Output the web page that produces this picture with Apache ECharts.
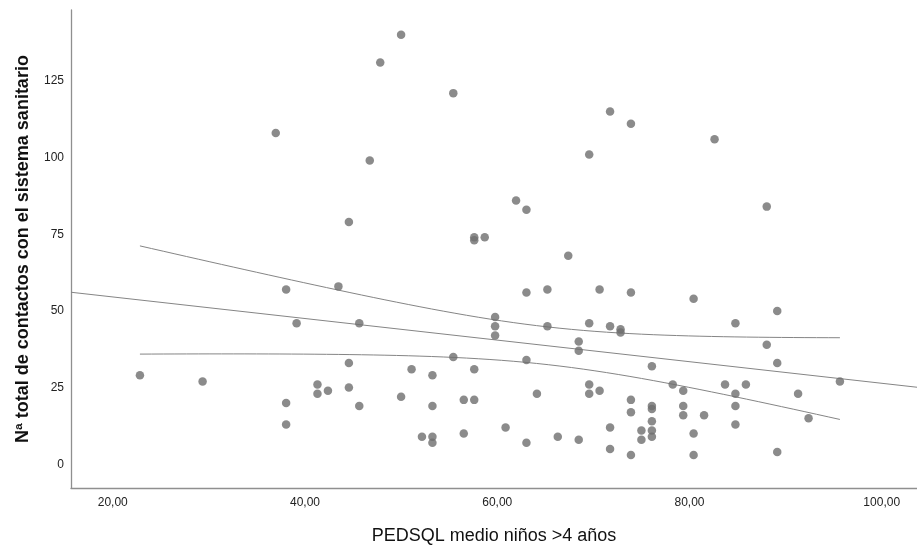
<!DOCTYPE html>
<html>
<head>
<meta charset="utf-8">
<script src="https://cdn.jsdelivr.net/npm/echarts@6/dist/echarts.min.js"></script>
<style>
  html, body { margin: 0; padding: 0; background: #ffffff; }
  #chart { width: 917px; height: 550px; }
</style>
</head>
<body>
<div id="chart"></div>
<script>
// PEDSQL mean score (children > 4 years) for each child
const pedsqlScores = [
  50.00, 47.83, 55.43, 36.96, 46.74, 44.57, 57.61, 57.61, 58.70, 71.74,
  73.91, 82.61, 69.57, 61.96, 63.04, 88.04, 22.83, 29.35, 38.04, 38.04,
  38.04, 39.13, 41.30, 41.30, 42.39, 43.48, 44.57, 44.57, 45.65, 45.65,
  67.39, 63.04, 65.22, 70.65, 73.91, 51.09, 53.26, 50.00, 53.26, 52.17,
  53.26, 53.26, 55.43, 57.61, 56.52, 57.61, 56.52, 59.78, 59.78, 59.78,
  60.87, 63.04, 63.04, 64.13, 65.22, 66.30, 68.48, 68.48, 68.48, 69.57,
  69.57, 69.57, 70.65, 71.74, 71.74, 71.74, 72.83, 72.83, 73.91, 73.91,
  73.91, 80.43, 89.13, 84.78, 88.04, 89.13, 76.09, 95.65, 78.26, 79.35,
  83.70, 85.87, 84.78, 91.30, 76.09, 76.09, 79.35, 79.35, 81.52, 84.78,
  84.78, 92.39, 76.09, 75.00, 76.09, 75.00, 76.09, 80.43, 80.43, 89.13
];

// Total number of contacts with the health system, same order
const contactCounts = [
  140, 131, 121, 108, 99, 79, 74, 73, 74, 115,
  111, 106, 101, 86, 83, 84, 29, 27, 57, 20,
  13, 46, 26, 23, 24, 58, 33, 25, 46, 19,
  68, 56, 57, 57, 56, 31, 29, 22, 19, 9,
  9, 7, 35, 31, 21, 21, 10, 48, 45, 42,
  12, 34, 7, 23, 45, 9, 40, 37, 8, 46,
  26, 23, 24, 45, 12, 5, 44, 43, 21, 17,
  3, 54, 50, 46, 39, 33, 32, 27, 26, 24,
  26, 26, 23, 23, 19, 18, 19, 16, 16, 19,
  13, 15, 14, 11, 11, 8, 9, 10, 3, 4
];

const xTicks = [20, 40, 60, 80, 100];
const yTicks = [0, 25, 50, 75, 100, 125];

const X_MIN = 15.66, X_MAX = 103.67;
const Y_MIN = -7.73, Y_MAX = 148.1;

// Student t quantile (0.975) for n - 2 = 98 degrees of freedom
const T_975 = 1.9845;

// Ordinary least-squares fit of contacts on PEDSQL score
const n = pedsqlScores.length;
const meanX = pedsqlScores.reduce((s, v) => s + v, 0) / n;
const meanY = contactCounts.reduce((s, v) => s + v, 0) / n;
let sxx = 0, sxy = 0;
for (let i = 0; i < n; i++) {
  sxx += (pedsqlScores[i] - meanX) ** 2;
  sxy += (pedsqlScores[i] - meanX) * (contactCounts[i] - meanY);
}
const slope = sxy / sxx;
const intercept = meanY - slope * meanX;
let sse = 0;
for (let i = 0; i < n; i++) {
  const r = contactCounts[i] - (intercept + slope * pedsqlScores[i]);
  sse += r * r;
}
const se = Math.sqrt(sse / (n - 2));
const fitAt = x => intercept + slope * x;
const halfWidth = x => T_975 * se * Math.sqrt(1 / n + (x - meanX) ** 2 / sxx);

const points = pedsqlScores.map((x, i) => [x, contactCounts[i]]);
const fitLine = [[X_MIN, fitAt(X_MIN)], [X_MAX, fitAt(X_MAX)]];

// 95% confidence band for the mean, drawn over the observed score range
const xLo = Math.min(...pedsqlScores), xHi = Math.max(...pedsqlScores);
const upperBand = [], lowerBand = [];
const steps = 60;
for (let k = 0; k <= steps; k++) {
  const x = xLo + (xHi - xLo) * k / steps;
  upperBand.push([x, fitAt(x) + halfWidth(x)]);
  lowerBand.push([x, fitAt(x) - halfWidth(x)]);
}

const fmtComma = v => v.toFixed(2).replace('.', ',');
const FONT = '"Liberation Sans", Arial, sans-serif';
const axisGrey = '#8f8f8f';
const bandStyle = { color: '#858585', width: 1 };

const chart = echarts.init(document.getElementById('chart'), null, { renderer: 'canvas' });
chart.setOption({
  animation: false,
  backgroundColor: '#ffffff',
  grid: { left: 71, right: 0, top: 10, bottom: 62 },
  xAxis: {
    type: 'value',
    min: X_MIN,
    max: X_MAX,
    name: 'PEDSQL medio niños >4 años',
    nameLocation: 'middle',
    nameGap: 39,
    nameTextStyle: { fontFamily: FONT, fontSize: 18, color: '#111' },
    axisLine: { show: true, onZero: false, lineStyle: { color: axisGrey, width: 1.3 } },
    axisTick: { show: false },
    splitLine: { show: false },
    axisLabel: {
      customValues: xTicks,
      formatter: fmtComma,
      fontFamily: FONT,
      fontSize: 12,
      color: '#222',
      margin: 9
    }
  },
  yAxis: {
    type: 'value',
    min: Y_MIN,
    max: Y_MAX,
    name: 'Nª total de contactos con el sistema sanitario',
    nameLocation: 'middle',
    nameGap: 39,
    nameTextStyle: { fontFamily: FONT, fontSize: 18, fontWeight: 'bold', color: '#111' },
    axisLine: { show: true, onZero: false, lineStyle: { color: axisGrey, width: 1.3 } },
    axisTick: { show: false },
    splitLine: { show: false },
    axisLabel: {
      customValues: yTicks,
      fontFamily: FONT,
      fontSize: 12,
      color: '#222',
      margin: 7
    }
  },
  series: [
    {
      type: 'line',
      data: fitLine,
      symbol: 'none',
      lineStyle: bandStyle,
      silent: true,
      z: 1
    },
    {
      type: 'line',
      data: upperBand,
      symbol: 'none',
      smooth: false,
      lineStyle: bandStyle,
      silent: true,
      z: 1
    },
    {
      type: 'line',
      data: lowerBand,
      symbol: 'none',
      smooth: false,
      lineStyle: bandStyle,
      silent: true,
      z: 1
    },
    {
      type: 'scatter',
      data: points,
      symbol: 'circle',
      symbolSize: 8.5,
      itemStyle: { color: '#6e6e6e' },
      z: 3
    }
  ]
});
</script>
</body>
</html>
